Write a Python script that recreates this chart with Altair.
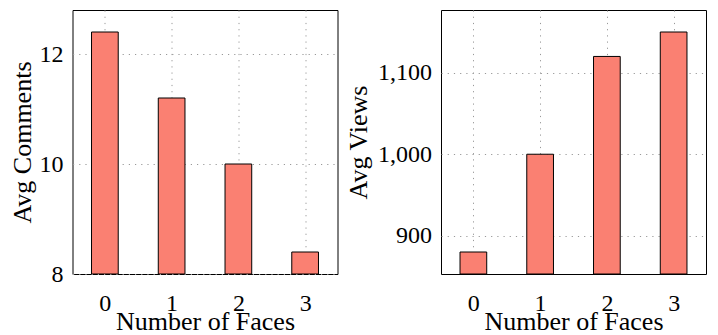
import altair as alt
import pandas as pd

faces = [0, 1, 2, 3]
avg_comments = [12.4, 11.2, 10.0, 8.4]
avg_views = [880, 1000, 1120, 1150]

comments_ticks = [8, 10, 12]
views_ticks = [900, 1000, 1100]

df = pd.DataFrame({"faces": faces, "comments": avg_comments, "views": avg_views})

FILL = "#FA8072"


def panel(field, title, domain, ticks, fmt, title_x):
    base = alt.Chart(df).transform_calculate(
        x0="datum.faces - 0.2", x1="datum.faces + 0.2"
    )
    return base.mark_bar(
        color=FILL, stroke="black", strokeWidth=1, clip=True
    ).encode(
        x=alt.X(
            "x0:Q",
            scale=alt.Scale(domain=[-0.485, 3.485], nice=False, zero=False),
            axis=alt.Axis(
                values=faces, format="d", title="Number of Faces",
                titleY=55.5, titleBaseline="alphabetic", labelPadding=17,
            ),
        ),
        x2="x1:Q",
        y=alt.Y(
            f"{field}:Q",
            scale=alt.Scale(domain=domain, nice=False, zero=False),
            axis=alt.Axis(
                values=ticks, format=fmt, title=title,
                titleX=title_x, titleBaseline="alphabetic", labelPadding=9.5,
            ),
        ),
        y2=alt.datum(domain[0]),
    ).properties(width=265, height=264)


left = panel("comments", "Avg Comments", [8.0, 12.8], comments_ticks, "d", -42)
right = panel("views", "Avg Views", [853, 1177], views_ticks, ",d", -75)

chart = alt.hconcat(left, right, spacing=5.5).properties(
    padding={"left": 0.5, "top": 1, "right": 0, "bottom": 0}
).configure(
    font="Liberation Serif"
).configure_axis(
    labelFont="Liberation Serif",
    titleFont="Liberation Serif",
    labelFontSize=24,
    titleFontSize=26,
    titleFontWeight="normal",
    labelColor="black",
    titleColor="black",
    ticks=False,
    tickSize=0,
    domain=False,
    grid=True,
    gridColor="#999999",
    gridDash=[1.2, 5],
    gridWidth=1,
).configure_view(
    stroke="black", strokeWidth=1
)

chart.save("out.html", embed_options={"renderer": "svg", "actions": False})
